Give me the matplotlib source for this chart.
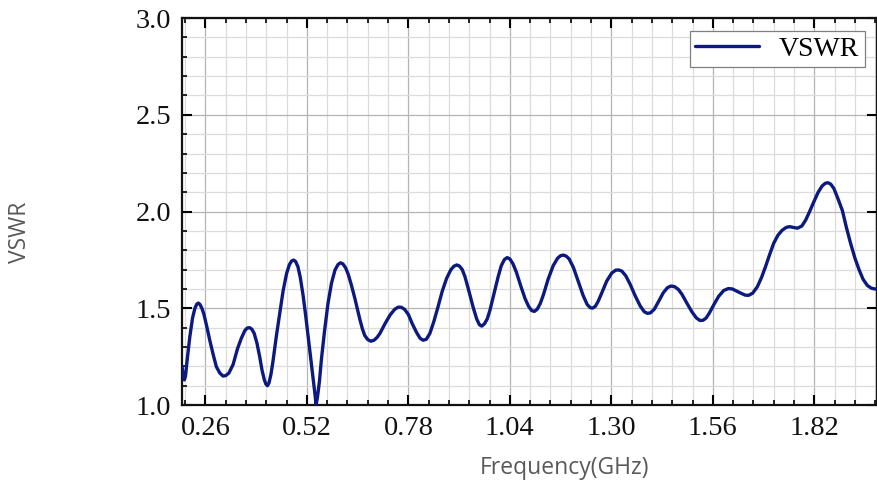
import matplotlib
matplotlib.use("Agg")
import matplotlib.pyplot as plt
from matplotlib.ticker import MultipleLocator


# VSWR CURVE
freq = [
    0.200, 0.203, 0.206, 0.209, 0.213, 0.220, 0.227, 0.233, 0.238, 0.242,
    0.246, 0.251, 0.256, 0.263, 0.271, 0.280, 0.288, 0.297, 0.305, 0.312,
    0.320, 0.331, 0.342, 0.352, 0.361, 0.367, 0.373, 0.379, 0.385, 0.392,
    0.399, 0.405, 0.411, 0.415, 0.419, 0.423, 0.428, 0.433, 0.442, 0.451,
    0.459, 0.468, 0.475, 0.481, 0.486, 0.491, 0.497, 0.503, 0.510, 0.517,
    0.524, 0.530, 0.536, 0.541, 0.5435, 0.547, 0.552, 0.557, 0.565, 0.574,
    0.583, 0.592, 0.600, 0.606, 0.612, 0.619, 0.626, 0.634, 0.643, 0.650,
    0.656, 0.662, 0.668, 0.676, 0.684, 0.692, 0.700, 0.707, 0.720, 0.733,
    0.745, 0.754, 0.762, 0.770, 0.780, 0.790, 0.801, 0.810, 0.818, 0.826,
    0.835, 0.845, 0.856, 0.867, 0.878, 0.889, 0.897, 0.904, 0.911, 0.918,
    0.925, 0.935, 0.946, 0.955, 0.962, 0.968, 0.975, 0.982, 0.989, 1.000,
    1.010, 1.018, 1.026, 1.033, 1.040, 1.048, 1.057, 1.068, 1.079, 1.088,
    1.096, 1.103, 1.110, 1.118, 1.126, 1.138, 1.151, 1.162, 1.170, 1.177,
    1.184, 1.192, 1.203, 1.215, 1.228, 1.238, 1.246, 1.252, 1.259, 1.266,
    1.275, 1.288, 1.301, 1.311, 1.319, 1.327, 1.337, 1.348, 1.361, 1.374,
    1.384, 1.392, 1.400, 1.410, 1.421, 1.433, 1.444, 1.453, 1.462, 1.472,
    1.481, 1.494, 1.507, 1.518, 1.527, 1.535, 1.543, 1.551, 1.563, 1.575,
    1.588, 1.600, 1.610, 1.620, 1.632, 1.643, 1.652, 1.662, 1.674, 1.685,
    1.695, 1.706, 1.716, 1.727, 1.738, 1.748, 1.757, 1.766, 1.777, 1.788,
    1.798, 1.808, 1.819, 1.830, 1.840, 1.848, 1.855, 1.862, 1.870, 1.880,
    1.892, 1.902, 1.913, 1.924, 1.935, 1.945, 1.956, 1.966, 1.975, 1.982,
]

vswr = [
    1.200, 1.150, 1.130, 1.150, 1.230, 1.353, 1.450, 1.500, 1.522, 1.527,
    1.520, 1.500, 1.470, 1.410, 1.336, 1.260, 1.198, 1.165, 1.150, 1.152,
    1.165, 1.210, 1.290, 1.345, 1.385, 1.398, 1.400, 1.392, 1.370, 1.320,
    1.250, 1.180, 1.130, 1.108, 1.100, 1.115, 1.160, 1.225, 1.360, 1.480,
    1.590, 1.680, 1.725, 1.745, 1.749, 1.742, 1.715, 1.660, 1.570, 1.460,
    1.340, 1.233, 1.130, 1.050, 1.000, 1.040, 1.120, 1.233, 1.380, 1.525,
    1.630, 1.698, 1.727, 1.735, 1.730, 1.710, 1.675, 1.620, 1.550, 1.490,
    1.440, 1.395, 1.360, 1.338, 1.330, 1.335, 1.350, 1.370, 1.420, 1.465,
    1.495, 1.506, 1.505, 1.495, 1.468, 1.420, 1.375, 1.345, 1.335, 1.340,
    1.370, 1.430, 1.508, 1.590, 1.655, 1.700, 1.718, 1.724, 1.718, 1.700,
    1.663, 1.590, 1.505, 1.445, 1.415, 1.408, 1.420, 1.445, 1.490, 1.580,
    1.663, 1.720, 1.752, 1.762, 1.755, 1.730, 1.685, 1.615, 1.550, 1.510,
    1.488, 1.484, 1.495, 1.525, 1.570, 1.650, 1.720, 1.758, 1.772, 1.775,
    1.770, 1.755, 1.710, 1.640, 1.565, 1.520, 1.503, 1.501, 1.510, 1.535,
    1.577, 1.640, 1.682, 1.697, 1.698, 1.692, 1.668, 1.625, 1.565, 1.512,
    1.483, 1.474, 1.476, 1.495, 1.535, 1.580, 1.607, 1.615, 1.612, 1.597,
    1.572, 1.525, 1.480, 1.450, 1.437, 1.438, 1.450, 1.475, 1.520, 1.562,
    1.592, 1.602, 1.600, 1.590, 1.578, 1.568, 1.567, 1.578, 1.611, 1.660,
    1.715, 1.780, 1.836, 1.878, 1.904, 1.918, 1.922, 1.918, 1.914, 1.925,
    1.956, 2.000, 2.051, 2.100, 2.132, 2.146, 2.149, 2.142, 2.120, 2.070,
    2.005, 1.920, 1.836, 1.760, 1.698, 1.650, 1.618, 1.604, 1.600, 1.600,
]

x_ticks = [0.26, 0.52, 0.78, 1.04, 1.30, 1.56, 1.82]
x_tick_labels = ["0.26", "0.52", "0.78", "1.04", "1.30", "1.56", "1.82"]
y_ticks = [1.0, 1.5, 2.0, 2.5, 3.0]
y_tick_labels = ["1.0", "1.5", "2.0", "2.5", "3.0"]

line_color = "#0c1a80"
label_color = "#595959"

# FIGURE
fig = plt.figure(figsize=(8.78, 4.88), dpi=100)
ax = fig.add_axes([0.2073, 0.170, 0.7917, 0.793])

ax.plot(freq, vswr, color=line_color, linewidth=2.4, label="VSWR",
        solid_joinstyle="round", solid_capstyle="round", zorder=3)

ax.set_xlim(0.2, 1.981)
ax.set_ylim(1.0, 3.0)

ax.set_xticks(x_ticks)
ax.set_xticklabels(x_tick_labels)
ax.set_yticks(y_ticks)
ax.set_yticklabels(y_tick_labels)
ax.xaxis.set_minor_locator(MultipleLocator(0.052))
ax.yaxis.set_minor_locator(MultipleLocator(0.1))

# grid
ax.grid(which="major", color="#b4b4b4", linewidth=0.9, zorder=0)
ax.grid(which="minor", color="#dcdcdc", linewidth=0.9, zorder=0)
ax.set_axisbelow(True)

# ticks
ax.tick_params(which="major", direction="in", length=7, width=1.5,
               top=True, right=True, pad=8)
ax.tick_params(which="minor", direction="in", length=3.6, width=1.2,
               top=True, right=False)
for lab in ax.get_xticklabels() + ax.get_yticklabels():
    lab.set_fontfamily("Liberation Serif")
    lab.set_fontsize(20.5)
    lab.set_color("#111111")

for side in ["left", "bottom", "top", "right"]:
    ax.spines[side].set_linewidth(1.6)
    ax.spines[side].set_color("#111111")

# legend
leg = ax.legend(loc="upper right", fancybox=False, framealpha=1,
                edgecolor="#808080", handlelength=2.3, handletextpad=0.7,
                borderpad=0.2, borderaxespad=0.45,
                prop={"family": "Liberation Serif", "size": 20})
leg.get_frame().set_linewidth(0.9)

# axis titles
fig.text(0.0225, 0.523, "VSWR", rotation=90, ha="center", va="center",
         fontfamily="Open Sans", fontsize=16.5, color=label_color)
fig.text(0.643, 0.04, "Frequency(GHz)", ha="center", va="center",
         fontfamily="Open Sans", fontsize=16.5, color=label_color)

fig.savefig("out.png", dpi=100)
print("Saved out.png")
